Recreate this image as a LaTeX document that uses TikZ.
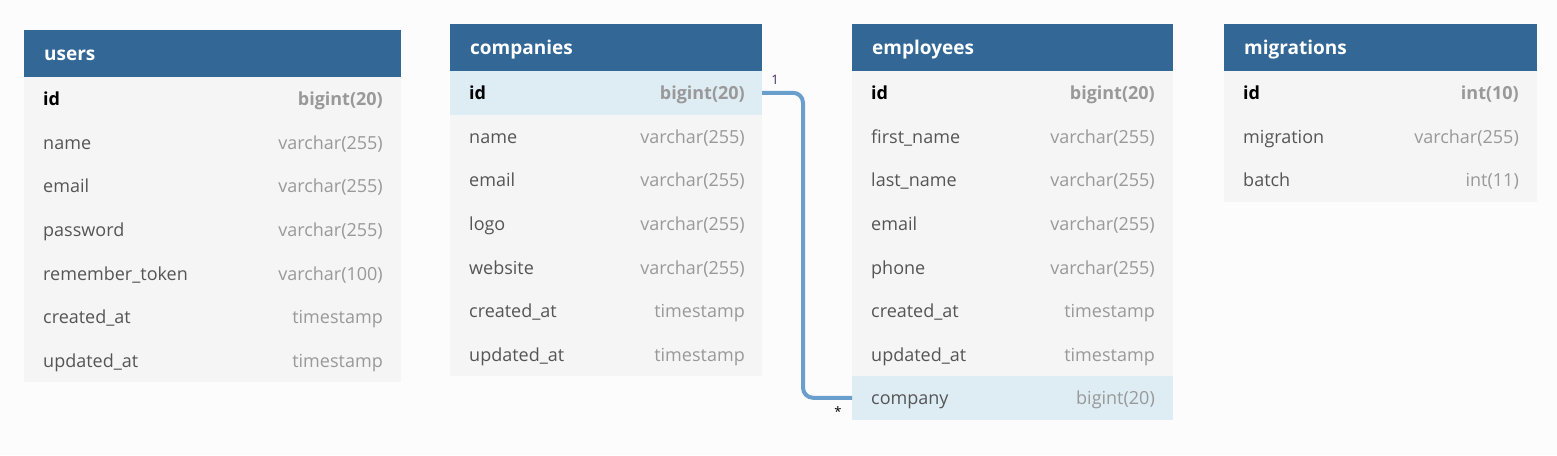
\documentclass[tikz,border=0pt]{standalone}
\usepackage{fontspec}
\setmainfont{Open Sans}
\usetikzlibrary{positioning}

\definecolor{headblue}{RGB}{50,103,150}
\definecolor{rowgray}{RGB}{245,245,245}
\definecolor{keyblue}{RGB}{222,236,244}
\definecolor{pagegray}{RGB}{252,252,252}
\definecolor{namegray}{RGB}{85,85,85}
\definecolor{typegray}{RGB}{153,153,153}
\definecolor{linkblue}{RGB}{106,159,205}
\definecolor{onecolor}{RGB}{70,40,100}

\tikzset{
  headbox/.style={fill=headblue, anchor=north west, minimum height=47, inner sep=0, outer sep=0},
  rowbox/.style={fill=rowgray, anchor=north west, minimum height=43.57, inner sep=0, outer sep=0},
  keybox/.style={rowbox, fill=keyblue},
  headtext/.style={anchor=base west, inner sep=0, text=white, font=\bfseries\fontsize{19}{22}\selectfont},
  fieldtext/.style={anchor=base west, inner sep=0, text=namegray, font=\fontsize{18}{21}\selectfont},
  typetext/.style={anchor=base east, inner sep=0, text=typegray, font=\fontsize{18}{21}\selectfont},
  pktext/.style={fieldtext, text=black, font=\bfseries\fontsize{18}{21}\selectfont},
  pktype/.style={typetext, font=\bfseries\fontsize{18}{21}\selectfont},
  link/.style={draw=linkblue, line width=4, rounded corners=10},
  cardtext/.style={inner sep=0, font=\fontsize{13}{15}\selectfont}
}

\begin{document}
\begin{tikzpicture}[x=1pt, y=-1pt]
  \fill[pagegray] (0,0) rectangle (1557,455);
  \useasboundingbox (0,0) rectangle (1557,455);

  % users
  \node[headbox, minimum width=377] (users) at (24,30) {};
  \node[headtext] (users-title) at ([xshift=20,yshift=-7]users.west) {users};
  \node[rowbox, minimum width=377] (users-1) at (users.south west) {};
  \node[pktext] at ([xshift=19,yshift=-7]users-1.west) {id};
  \node[pktype] at ([xshift=-18,yshift=-7]users-1.east) {bigint(20)};
  \foreach \fname/\ftype [count=\i from 2] in {name/varchar(255), email/varchar(255), password/varchar(255), remember\_token/varchar(100), created\_at/timestamp, updated\_at/timestamp}{
    \pgfmathtruncatemacro\prev{\i-1}
    \node[rowbox, minimum width=377] (users-\i) at (users-\prev.south west) {};
    \node[fieldtext] (users-\i-name) at ([xshift=19,yshift=-7]users-\i.west) {\fname};
    \node[typetext] (users-\i-type) at ([xshift=-18,yshift=-7]users-\i.east) {\ftype};
  }

  % companies
  \node[headbox, minimum width=312] (companies) at (450,24) {};
  \node[headtext] (companies-title) at ([xshift=20,yshift=-7]companies.west) {companies};
  \node[keybox, minimum width=312] (companies-1) at (companies.south west) {};
  \node[pktext] at ([xshift=19,yshift=-7]companies-1.west) {id};
  \node[pktype] at ([xshift=-17,yshift=-7]companies-1.east) {bigint(20)};
  \foreach \fname/\ftype [count=\i from 2] in {name/varchar(255), email/varchar(255), logo/varchar(255), website/varchar(255), created\_at/timestamp, updated\_at/timestamp}{
    \pgfmathtruncatemacro\prev{\i-1}
    \node[rowbox, minimum width=312] (companies-\i) at (companies-\prev.south west) {};
    \node[fieldtext] (companies-\i-name) at ([xshift=19,yshift=-7]companies-\i.west) {\fname};
    \node[typetext] (companies-\i-type) at ([xshift=-17,yshift=-7]companies-\i.east) {\ftype};
  }

  % employees
  \node[headbox, minimum width=321] (employees) at (852,24) {};
  \node[headtext] (employees-title) at ([xshift=20,yshift=-7]employees.west) {employees};
  \node[rowbox, minimum width=321] (employees-1) at (employees.south west) {};
  \node[pktext] at ([xshift=19,yshift=-7]employees-1.west) {id};
  \node[pktype] at ([xshift=-18,yshift=-7]employees-1.east) {bigint(20)};
  \foreach \fname/\ftype [count=\i from 2] in {first\_name/varchar(255), last\_name/varchar(255), email/varchar(255), phone/varchar(255), created\_at/timestamp, updated\_at/timestamp}{
    \pgfmathtruncatemacro\prev{\i-1}
    \node[rowbox, minimum width=321] (employees-\i) at (employees-\prev.south west) {};
    \node[fieldtext] (employees-\i-name) at ([xshift=19,yshift=-7]employees-\i.west) {\fname};
    \node[typetext] (employees-\i-type) at ([xshift=-18,yshift=-7]employees-\i.east) {\ftype};
  }
  \node[keybox, minimum width=321] (employees-8) at (employees-7.south west) {};
  \node[fieldtext] at ([xshift=19,yshift=-7]employees-8.west) {company};
  \node[typetext] at ([xshift=-18,yshift=-7]employees-8.east) {bigint(20)};

  % migrations
  \node[headbox, minimum width=313] (migrations) at (1224,24) {};
  \node[headtext] (migrations-title) at ([xshift=20,yshift=-7]migrations.west) {migrations};
  \node[rowbox, minimum width=313] (migrations-1) at (migrations.south west) {};
  \node[pktext] at ([xshift=19,yshift=-7]migrations-1.west) {id};
  \node[pktype] at ([xshift=-18,yshift=-7]migrations-1.east) {int(10)};
  \node[rowbox, minimum width=313] (migrations-2) at (migrations-1.south west) {};
  \node[fieldtext] at ([xshift=19,yshift=-7]migrations-2.west) {migration};
  \node[typetext] at ([xshift=-18,yshift=-7]migrations-2.east) {varchar(255)};
  \node[rowbox, minimum width=313] (migrations-3) at (migrations-2.south west) {};
  \node[fieldtext] at ([xshift=19,yshift=-7]migrations-3.west) {batch};
  \node[typetext] at ([xshift=-18,yshift=-7]migrations-3.east) {int(11)};

  % relation companies.id -> employees.company
  \draw[link] (companies-1.east) -- ++(41,0) |- (employees-8.west);
  \node[cardtext, text=onecolor] (one) at ([xshift=13,yshift=13]companies-1.east) {1};
  \node[cardtext] (many) at ([xshift=-14,yshift=-14]employees-8.west) {*};
\end{tikzpicture}
\end{document}
